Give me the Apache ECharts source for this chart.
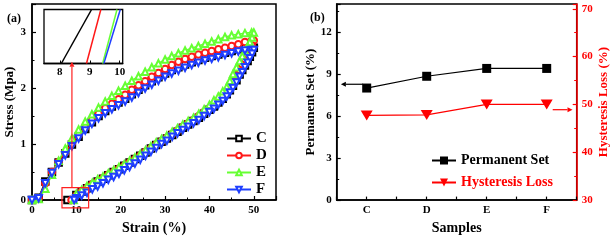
<!DOCTYPE html>
<html><head><meta charset="utf-8">
<script src="https://cdn.jsdelivr.net/npm/echarts@6/dist/echarts.min.js"></script>
<style>html,body{margin:0;padding:0;background:#fff}#c{width:614px;height:240px}</style>
</head><body><div id="c"></div>
<script>
// ---------- Panel (a): stress-strain loops ----------
const strainLoad = [0,1.5,3,4.5,6,7.5,9,10.5,12,13.5,15,16.5,18,19.5,21,22.5,24,25.5,27,28.5,30,31.5,33,34.5,36,37.5,39,40.5,42,43.5,45,46.5,48,49.5];
const loadC = [0,0.04,0.33,0.50,0.67,0.83,0.99,1.13,1.27,1.39,1.50,1.59,1.67,1.74,1.81,1.89,1.97,2.05,2.12,2.19,2.26,2.32,2.37,2.42,2.46,2.50,2.54,2.57,2.60,2.63,2.66,2.69,2.71,2.72];
const loadD = [0,0.03,0.30,0.50,0.68,0.85,1.02,1.16,1.30,1.43,1.54,1.64,1.72,1.80,1.88,1.97,2.05,2.12,2.20,2.27,2.34,2.41,2.47,2.52,2.56,2.60,2.63,2.66,2.69,2.72,2.75,2.78,2.82,2.85];
const loadE = [0,0.02,0.20,0.45,0.70,0.92,1.10,1.26,1.40,1.53,1.65,1.76,1.86,1.95,2.04,2.13,2.21,2.29,2.37,2.44,2.51,2.57,2.62,2.67,2.71,2.75,2.79,2.83,2.87,2.91,2.94,2.96,2.98,2.99];
const loadF = [0,0.03,0.30,0.48,0.64,0.80,0.96,1.10,1.24,1.36,1.46,1.55,1.62,1.69,1.76,1.83,1.91,1.99,2.06,2.13,2.20,2.26,2.31,2.36,2.41,2.45,2.49,2.52,2.55,2.59,2.62,2.65,2.67,2.68];
const strainUnload = [50.0,49.6,49.1,48.6,48.0,47.4,46.8,46.1,45.3,44.6,43.9,43.0,42.0,41.0,40.0,38.8,37.6,36.4,35.2,34.0,32.8,31.6,30.4,29.2,28.0,26.8,25.6,24.4,23.2,22.0,20.8,19.6,18.4,17.2,16.0,14.8,13.6,12.4,11.2,10.0];
const unloadC = [2.72,2.64,2.56,2.48,2.40,2.32,2.24,2.14,2.04,1.96,1.89,1.81,1.74,1.67,1.61,1.54,1.47,1.41,1.35,1.29,1.22,1.16,1.10,1.04,0.98,0.92,0.85,0.79,0.73,0.67,0.61,0.55,0.50,0.44,0.38,0.33,0.27,0.21,0.15,0.09];
const unloadD = [2.85,2.76,2.67,2.58,2.49,2.41,2.32,2.22,2.11,2.02,1.94,1.86,1.78,1.71,1.64,1.57,1.50,1.43,1.37,1.31,1.24,1.18,1.11,1.05,0.99,0.92,0.86,0.79,0.73,0.67,0.61,0.56,0.50,0.45,0.39,0.33,0.28,0.22,0.15,0.08];
const unloadE = [2.99,2.90,2.82,2.74,2.65,2.57,2.48,2.37,2.25,2.13,2.02,1.94,1.85,1.78,1.70,1.62,1.54,1.47,1.41,1.35,1.28,1.22,1.15,1.09,1.03,0.96,0.89,0.82,0.76,0.70,0.64,0.59,0.53,0.48,0.42,0.37,0.31,0.25,0.18,0.11];
const unloadF = [2.68,2.61,2.53,2.45,2.37,2.28,2.20,2.10,2.00,1.92,1.85,1.77,1.70,1.63,1.57,1.50,1.43,1.37,1.31,1.25,1.19,1.13,1.06,1.00,0.93,0.86,0.79,0.72,0.65,0.59,0.53,0.47,0.41,0.36,0.30,0.24,0.19,0.13,0.08,0.03];
const endStrain = [8.0, 8.9, 9.4, 9.5];   // C, D, E, F: where unloading returns to zero stress
const sampleNames = ['C','D','E','F'];
// inset: zero-stress crossing lines (bottom strain, top strain)
const insetBottom = [8.05, 8.89, 9.43, 9.47];
const insetTop = [9.06, 9.37, 9.91, 10.02];
const insetTicks = [8, 9, 10];

// ---------- Panel (b) ----------
const samples = ['C','D','E','F'];
const permanentSet = [8.0, 8.84, 9.4, 9.4];
const hysteresisLoss = [47.7, 47.8, 50.0, 50.0];

const colors = ['#000000','#ff1a1a','#66ff33','#1f3fff'];
const symbols = ['emptyRect','emptyCircle','emptyTriangle','emptyTriangle'];
const rotates = [0,0,0,180];
const loads = [loadC, loadD, loadE, loadF];
const unloads = [unloadC, unloadD, unloadE, unloadF];

const FF = "'Liberation Serif','Times New Roman',serif";
const lab = {fontFamily: FF, fontWeight: 'bold', fontSize: 11, color: '#000'};

function pairs(xs, ys){ return xs.map((x,i)=>[x, ys[i]]); }

const loopSeries = sampleNames.map((n,i)=>({
  name: n, type: 'line', xAxisIndex: 0, yAxisIndex: 0,
  data: pairs(strainLoad, loads[i]).concat(pairs(strainUnload, unloads[i])).concat([[endStrain[i], 0]]),
  symbol: symbols[i], symbolRotate: rotates[i], symbolSize: 6.5,
  color: colors[i], lineStyle: {width: 1.5, color: colors[i]},
  itemStyle: {borderWidth: 1.2, color: colors[i]}, z: 2 + i*0.1
}));
const insetSeries = sampleNames.map((n,i)=>({
  type: 'line', xAxisIndex: 1, yAxisIndex: 1, showSymbol: false, silent: true,
  data: [[insetBottom[i], 0], [insetTop[i], 1]],
  lineStyle: {width: 1.5, color: colors[i]}, z: 7
}));

const chart = echarts.init(document.getElementById('c'), null, {renderer: 'canvas'});
const axisLineBlack = {show: true, lineStyle: {color: '#000', width: 1.5}};
chart.setOption({
  animation: false,
  backgroundColor: '#fff',
  title: [
    {text: '(a)', left: 2, top: 8, textStyle: {fontFamily: FF, fontWeight: 'bold', fontSize: 12, color: '#000'}},
    {text: '(b)', left: 305, top: 7, textStyle: {fontFamily: FF, fontWeight: 'bold', fontSize: 12, color: '#000'}}
  ],
  grid: [
    {left: 32, top: 4, width: 244, height: 203.7, show: true, borderColor: '#000', borderWidth: 1.5, containLabel: false},
    {left: 44, top: 9.5, width: 78.7, height: 54, show: true, borderColor: '#000', borderWidth: 1.3, backgroundColor: '#fff', z: 5},
    {left: 336.7, top: 4, width: 240, height: 204.3, show: true, borderColor: '#000', borderWidth: 1.5}
  ],
  xAxis: [
    {type: 'value', gridIndex: 0, min: 0, max: 55, interval: 10,
     axisLine: axisLineBlack, splitLine: {show: false},
     axisTick: {inside: true, length: 4, lineStyle: {color: '#000', width: 1.2}},
     minorTick: {show: true, splitNumber: 2, length: 2.5, lineStyle: {color: '#000', width: 1}},
     axisLabel: Object.assign({margin: 5, formatter: v => (v % 10 === 0 ? String(v) : '')}, lab),
     name: 'Strain (%)', nameLocation: 'middle', nameGap: 21,
     nameTextStyle: {fontFamily: FF, fontWeight: 'bold', fontSize: 14, color: '#000'}},
    {type: 'value', gridIndex: 1, min: 7.47, max: 10.1, z: 6,
     axisLine: {show: true, lineStyle: {color: '#000', width: 1.3}}, splitLine: {show: false},
     axisTick: {inside: true, length: 3, customValues: insetTicks, lineStyle: {color: '#000'}},
     axisLabel: Object.assign({margin: 3, customValues: insetTicks}, lab)},
    {type: 'value', gridIndex: 2, min: 0.5, max: 4.5, interval: 0.5,
     axisLine: axisLineBlack, splitLine: {show: false},
     axisTick: {inside: true, length: 3.5, lineStyle: {color: '#000', width: 1.2}},
     axisLabel: Object.assign({margin: 5, formatter: v => (Math.abs(v - Math.round(v)) < 1e-6 && v >= 1 && v <= 4 ? samples[Math.round(v) - 1] : '')}, lab),
     name: 'Samples', nameLocation: 'middle', nameGap: 19,
     nameTextStyle: {fontFamily: FF, fontWeight: 'bold', fontSize: 14, color: '#000'}}
  ],
  yAxis: [
    {type: 'value', gridIndex: 0, min: 0, max: 3.5, interval: 1,
     axisLine: axisLineBlack, splitLine: {show: false},
     axisTick: {inside: true, length: 4, lineStyle: {color: '#000', width: 1.2}},
     minorTick: {show: true, splitNumber: 2, length: 2.5, lineStyle: {color: '#000', width: 1}},
     axisLabel: Object.assign({margin: 6, formatter: v => (Number.isInteger(v) ? String(v) : '')}, lab),
     name: 'Stress (Mpa)', nameLocation: 'middle', nameGap: 15,
     nameTextStyle: {fontFamily: FF, fontWeight: 'bold', fontSize: 13, color: '#000'}},
    {type: 'value', gridIndex: 1, min: 0, max: 1, show: false},
    {type: 'value', gridIndex: 2, min: 0, max: 14, interval: 3,
     axisLine: axisLineBlack, splitLine: {show: false},
     axisTick: {inside: true, length: 4, lineStyle: {color: '#000', width: 1.2}},
     minorTick: {show: true, splitNumber: 2, length: 2.5, lineStyle: {color: '#000', width: 1}},
     axisLabel: Object.assign({margin: 5, formatter: v => (v % 3 === 0 ? String(v) : '')}, lab),
     name: 'Permanent Set (%)', nameLocation: 'middle', nameGap: 19,
     nameTextStyle: {fontFamily: FF, fontWeight: 'bold', fontSize: 13, color: '#000'}},
    {type: 'value', gridIndex: 2, position: 'right', min: 30, max: 71, interval: 10,
     axisLine: {show: true, lineStyle: {color: '#ff0000', width: 1.5}}, splitLine: {show: false},
     axisTick: {inside: true, length: 4, lineStyle: {color: '#ff0000', width: 1.2}},
     minorTick: {show: true, splitNumber: 2, length: 2.5, lineStyle: {color: '#ff0000', width: 1}},
     axisLabel: Object.assign({}, lab, {margin: 5, color: '#ff0000', formatter: v => (v % 10 === 0 ? String(v) : '')}),
     name: 'Hysteresis Loss (%)', nameLocation: 'middle', nameGap: 20,
     nameTextStyle: {fontFamily: FF, fontWeight: 'bold', fontSize: 13, color: '#ff0000'}}
  ],
  legend: [
    {data: sampleNames, left: 221, top: 126, orient: 'vertical', itemWidth: 24, itemHeight: 7, itemGap: 2,
     textStyle: {fontFamily: FF, fontWeight: 'bold', fontSize: 15, color: '#000', lineHeight: 14}, selectedMode: false},
    {data: [{name: 'Permanent Set', textStyle: {color: '#000'}}, {name: 'Hysteresis Loss', textStyle: {color: '#ff0000'}}],
     left: 426, top: 148, orient: 'vertical', itemWidth: 24, itemHeight: 10, itemGap: 7,
     textStyle: {fontFamily: FF, fontWeight: 'bold', fontSize: 14, lineHeight: 15}, selectedMode: false}
  ],
  series: loopSeries.concat(insetSeries).concat([
    {name: 'Permanent Set', type: 'line', xAxisIndex: 2, yAxisIndex: 2,
     data: samples.map((s,i)=>[i+1, permanentSet[i]]),
     symbol: 'rect', symbolSize: 9, color: '#000', lineStyle: {width: 1.2, color: '#000'}},
    {name: 'Hysteresis Loss', type: 'line', xAxisIndex: 2, yAxisIndex: 3,
     data: samples.map((s,i)=>[i+1, hysteresisLoss[i]]),
     symbol: 'triangle', symbolRotate: 180, symbolSize: [12, 10], color: '#ff0000', lineStyle: {width: 1.2, color: '#ff0000'}}
  ])
});

// ---------- annotations (arrows, zoom box), placed via data coordinates ----------
function px(finder, v){ return chart.convertToPixel(finder, v); }
const fa = {xAxisIndex: 0, yAxisIndex: 0};
const r0 = px(fa, [6.76, 0.22]), r1 = px(fa, [12.77, -0.14]);
const a0 = px(fa, [9, 0.22]), a1 = px(fa, [9, 2.47]);
const fbL = {xAxisIndex: 2, yAxisIndex: 2}, fbR = {xAxisIndex: 2, yAxisIndex: 3};
const b0 = px(fbL, [0.94, 8.27]), b1 = px(fbL, [0.57, 8.27]);
const c0 = px(fbR, [4.1, 48.9]), c1 = px(fbR, [4.43, 48.9]);
function arrow(p0, p1, color){
  const dx = p1[0]-p0[0], dy = p1[1]-p0[1], L = Math.hypot(dx, dy), ux = dx/L, uy = dy/L;
  const hl = 5, hw = 2.5;
  const bx = p1[0]-ux*hl, by = p1[1]-uy*hl;
  return [
    {type: 'line', shape: {x1: p0[0], y1: p0[1], x2: bx, y2: by}, style: {stroke: color, lineWidth: 1.2}, z: 20},
    {type: 'polygon', shape: {points: [[p1[0], p1[1]], [bx - uy*hw, by + ux*hw], [bx + uy*hw, by - ux*hw]]}, style: {fill: color}, z: 20}
  ];
}
chart.setOption({graphic: [
  {type: 'rect', shape: {x: r0[0], y: r0[1], width: r1[0]-r0[0], height: r1[1]-r0[1]}, style: {fill: 'none', stroke: '#ff2020', lineWidth: 1.2}, z: 20}
].concat(arrow(a0, a1, '#ff2020')).concat(arrow(b0, b1, '#000')).concat(arrow(c0, c1, '#ff0000'))});
</script>
</body></html>
